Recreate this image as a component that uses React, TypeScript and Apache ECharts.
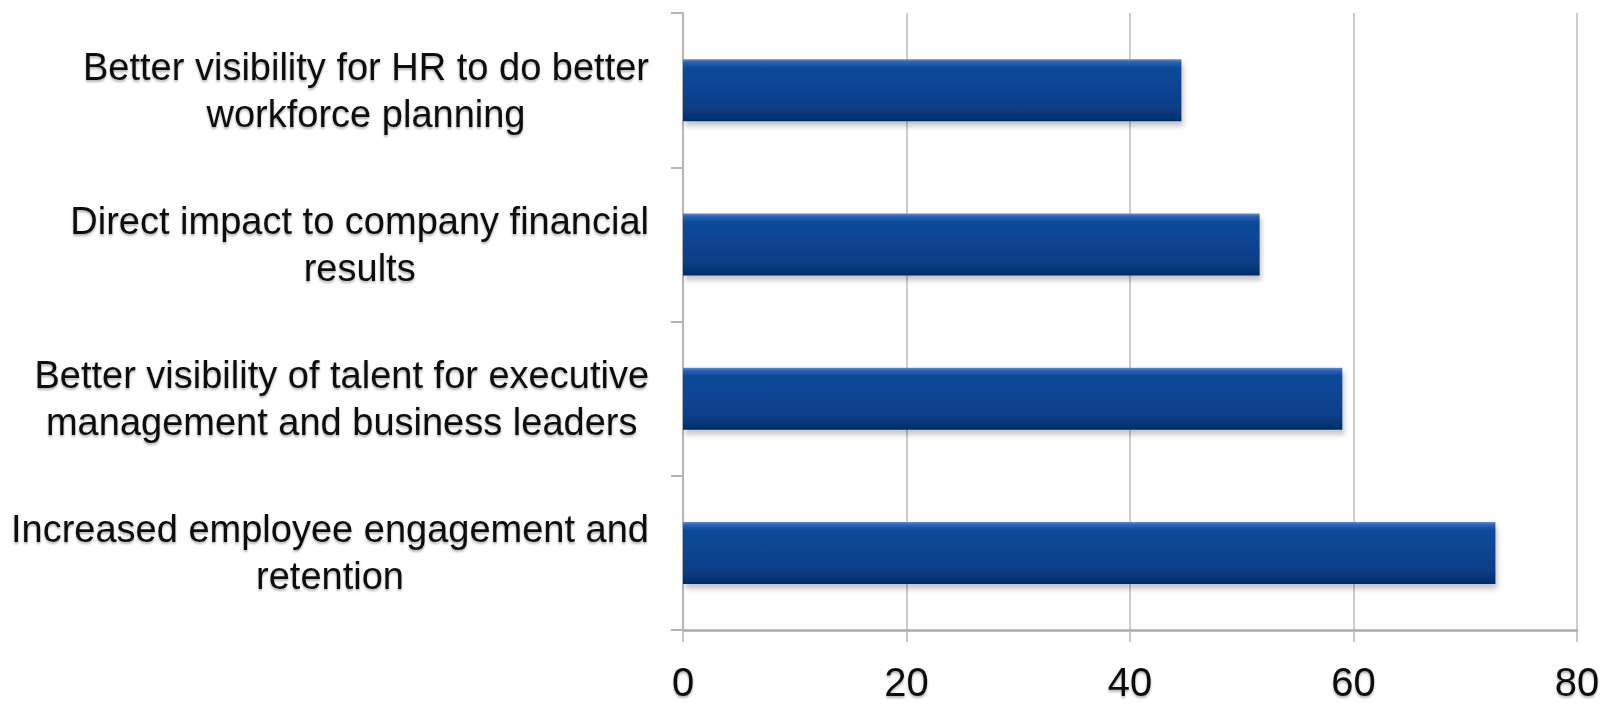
import React, { useEffect, useRef } from "react";
import * as echarts from "echarts";

const categories: string[] = [
  "Better visibility for HR to do better\nworkforce planning",
  "Direct impact to company financial\nresults",
  "Better visibility of talent for executive\nmanagement and business leaders",
  "Increased employee engagement and\nretention",
];
const values: number[] = [44.6, 51.6, 59.0, 72.7];
const xTicks: number[] = [0, 20, 40, 60, 80];

export default function App() {
  const ref = useRef<HTMLDivElement>(null);
  useEffect(() => {
    if (!ref.current) return;
    const chart = echarts.init(ref.current, undefined, { renderer: "svg" });
    const font = "'Liberation Sans', Arial, sans-serif";
    chart.setOption({
      animation: false,
      backgroundColor: "#ffffff",
      grid: { left: 683, right: 33, top: 13, bottom: 77, containLabel: false },
      xAxis: {
        type: "value",
        min: xTicks[0],
        max: xTicks[xTicks.length - 1],
        interval: 20,
        axisLine: { show: true, lineStyle: { color: "#ababab", width: 2.5 } },
        axisTick: { show: true, length: 12, lineStyle: { color: "#b5b5b5", width: 1.5 } },
        splitLine: { show: true, lineStyle: { color: "#bdbdbd", width: 1.5 } },
        axisLabel: {
          margin: 32,
          fontSize: 40,
          color: "#111111",
          fontFamily: font,
          textShadowColor: "rgba(0,0,0,0.3)",
          textShadowOffsetY: 2,
          textShadowBlur: 2,
        },
      },
      yAxis: {
        type: "category",
        inverse: true,
        data: categories,
        axisLine: { show: true, lineStyle: { color: "#b5b5b5", width: 2 } },
        axisTick: { show: true, length: 12, lineStyle: { color: "#b5b5b5", width: 2 } },
        axisLabel: {
          margin: 34,
          color: "#111111",
          fontSize: 38,
          fontFamily: font,
          formatter: (v: string) =>
            v
              .split("\n")
              .map((l) => "{c|" + l + "}")
              .join("\n"),
          rich: {
            c: {
              align: "center",
              fontSize: 38,
              lineHeight: 47,
              color: "#111111",
              fontFamily: font,
              textShadowColor: "rgba(0,0,0,0.3)",
              textShadowOffsetY: 2,
              textShadowBlur: 2,
            },
          },
        },
      },
      series: [
        {
          type: "bar",
          data: values,
          barWidth: 62,
          itemStyle: {
            color: new echarts.graphic.LinearGradient(0, 0, 0, 1, [
              { offset: 0, color: "#5b8fd8" },
              { offset: 0.05, color: "#2a62b6" },
              { offset: 0.14, color: "#0c4a9c" },
              { offset: 0.75, color: "#083f89" },
              { offset: 0.92, color: "#063575" },
              { offset: 1, color: "#042a5e" },
            ]),
            shadowColor: "rgba(0,0,0,0.22)",
            shadowOffsetY: 5,
            shadowOffsetX: 2,
            shadowBlur: 5,
          },
        },
      ],
    });
    return () => chart.dispose();
  }, []);
  return (
    <div
      ref={ref}
      style={{ position: "fixed", left: 0, top: 0, width: 1610, height: 707 }}
    />
  );
}
